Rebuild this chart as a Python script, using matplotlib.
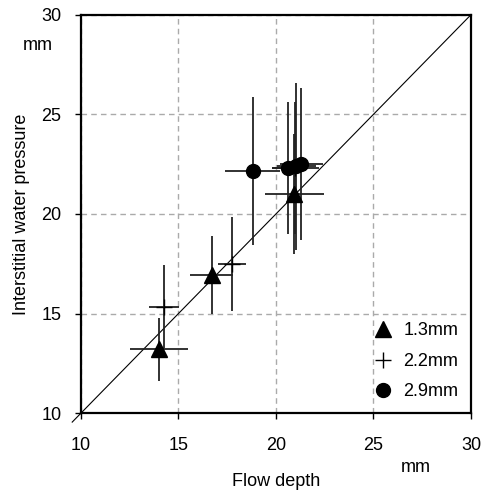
import matplotlib
matplotlib.use("Agg")
import matplotlib.pyplot as plt
from matplotlib.lines import Line2D

plt.rcParams['font.family'] = ['Liberation Sans', 'DejaVu Sans']

# 1.3mm (triangles)
x13 = [14.0, 16.7, 20.95]
y13 = [13.2, 16.95, 21.0]
xe13 = [1.5, 1.1, 1.5]
ye13 = [1.6, 1.95, 3.0]

# 2.2mm (plus)
x22 = [14.25, 17.75, 21.0]
y22 = [15.35, 17.5, 22.3]
xe22 = [0.77, 0.7, 1.2]
ye22 = [2.1, 2.35, 3.3]

# 2.9mm (circles)
x29 = [18.8, 20.6, 21.05, 21.3]
y29 = [22.15, 22.3, 22.4, 22.5]
xe29 = [1.4, 0.8, 1.0, 1.1]
ye29 = [3.7, 3.3, 4.2, 3.8]

labels = ['1.3mm', '2.2mm', '2.9mm']
ticks = [10, 15, 20, 25, 30]


def main():
    fig = plt.figure(figsize=(4.82, 4.93), dpi=100)
    ax = fig.add_axes([0.168, 0.162, 0.809, 0.808])

    ax.plot([9.55, 30], [9.55, 30], color='black', linewidth=0.8, clip_on=False, zorder=2)

    ekw = dict(ecolor='#222222', elinewidth=1.3, capsize=0, linestyle='none', zorder=3)
    ax.errorbar(x13, y13, xerr=xe13, yerr=ye13, marker='^', markersize=11,
                color='black', **ekw)
    ax.errorbar(x22, y22, xerr=xe22, yerr=ye22, marker='+', markersize=12,
                markeredgewidth=1.0, color='black', **ekw)
    ax.errorbar(x29, y29, xerr=xe29, yerr=ye29, marker='o', markersize=10,
                color='black', **ekw)

    ax.set_xlim(10, 30)
    ax.set_ylim(10, 30)
    ax.set_xticks(ticks)
    ax.set_yticks(ticks)
    ax.tick_params(labelsize=13, direction='out', length=4, width=1,
                   top=False, right=False)
    ax.tick_params(axis='x', pad=13)
    ax.tick_params(axis='y', pad=10)
    ax.grid(True, color='#aaaaaa', linestyle=(0, (4, 3)), linewidth=1.0)
    for s in ax.spines.values():
        s.set_linewidth(1.6)
        s.set_zorder(5)

    ax.set_xlabel('Flow depth', fontsize=13, labelpad=14)
    ax.set_ylabel('Interstitial water pressure', fontsize=13, labelpad=8)
    fig.text(0.079, 0.908, 'mm', fontsize=13, ha='center', va='center')
    fig.text(0.862, 0.051, 'mm', fontsize=13, ha='center', va='center')

    handles = [
        Line2D([], [], marker='^', markersize=11, color='black', linestyle='none'),
        Line2D([], [], marker='+', markersize=12, markeredgewidth=1.0, color='black', linestyle='none'),
        Line2D([], [], marker='o', markersize=10, color='black', linestyle='none'),
    ]
    ax.legend(handles, labels, loc='lower right', frameon=False, fontsize=13,
              borderaxespad=0.2, handlelength=1.0, handletextpad=0.6,
              labelspacing=0.75, borderpad=0.5, numpoints=1)

    fig.savefig('out.png', dpi=100)


if __name__ == "__main__":
    main()
